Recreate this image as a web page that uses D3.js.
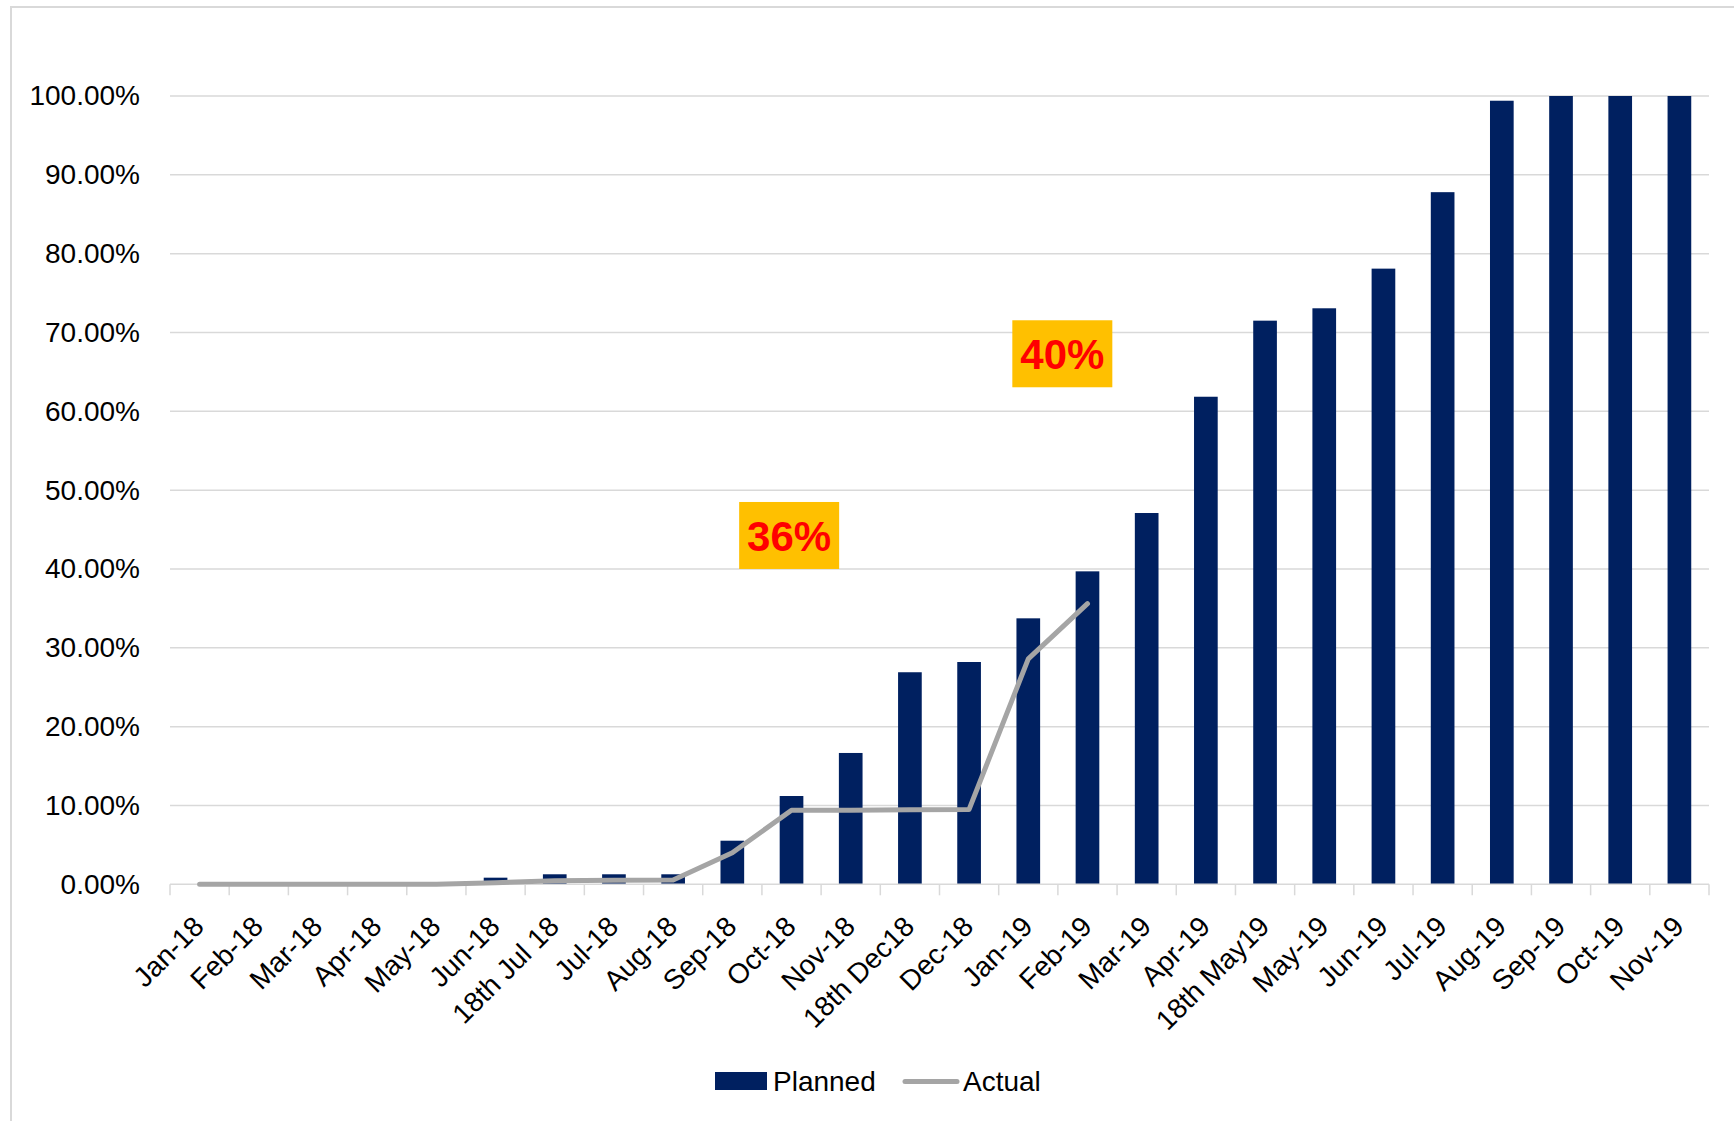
<!DOCTYPE html>
<html>
<head>
<meta charset="utf-8">
<script src="https://cdn.jsdelivr.net/npm/d3@7"></script>
<style>
  html, body { margin: 0; padding: 0; background: #fff; }
  svg { display: block; }
  text { font-family: "Liberation Sans", Arial, sans-serif; }
</style>
</head>
<body>
<svg id="chart" width="1734" height="1121"></svg>
<script>
// Schedule progress: planned vs actual cumulative completion
const categories = [
  "Jan-18", "Feb-18", "Mar-18", "Apr-18", "May-18", "Jun-18", "18th Jul 18",
  "Jul-18", "Aug-18", "Sep-18", "Oct-18", "Nov-18", "18th Dec18", "Dec-18",
  "Jan-19", "Feb-19", "Mar-19", "Apr-19", "18th May19", "May-19", "Jun-19",
  "Jul-19", "Aug-19", "Sep-19", "Oct-19", "Nov-19"
];

// Planned completion (%) per period
const planned = [
  0, 0, 0, 0, 0, 0.84, 1.27,
  1.27, 1.27, 5.53, 11.2, 16.66, 26.9, 28.2,
  33.74, 39.7, 47.1, 61.85, 71.5, 73.07, 78.1,
  87.8, 99.4, 100, 100, 100
];

// Actual completion (%) recorded so far
const actual = [
  0, 0, 0, 0, 0, 0.2, 0.45,
  0.5, 0.55, 4.0, 9.4, 9.4, 9.45, 9.5,
  28.6, 35.6
];

const yTicks = [0, 10, 20, 30, 40, 50, 60, 70, 80, 90, 100];

// Callouts: text and the period / level they sit at
const callouts = [
  { text: "36%", period: "Oct-18", level: 44.25, shift: -0.04 },
  { text: "40%", period: "Jan-19", level: 67.3, shift: 0.575 }
];

const svg = d3.select("#chart");
const W = 1734, H = 1121;

const plot = { left: 170, right: 1709, top: 96, bottom: 884.3 };

const x = d3.scaleBand().domain(categories).range([plot.left, plot.right]).padding(0);
const y = d3.scaleLinear().domain([0, 100]).range([plot.bottom, plot.top]);

const gridColor = "#D9D9D9";
const barColor = "#002060";
const lineColor = "#A5A5A5";

// Chart frame
svg.append("rect")
  .attr("x", 11).attr("y", 7)
  .attr("width", W + 20).attr("height", H + 20)
  .attr("fill", "#fff")
  .attr("stroke", gridColor).attr("stroke-width", 2);

// Horizontal gridlines
svg.append("g")
  .selectAll("line")
  .data(yTicks.filter(d => d > 0))
  .join("line")
  .attr("x1", plot.left).attr("x2", plot.right)
  .attr("y1", d => y(d)).attr("y2", d => y(d))
  .attr("stroke", gridColor).attr("stroke-width", 1.5);

// Y axis labels
const yAxis = d3.axisLeft(y).tickValues(yTicks)
  .tickFormat(d => d.toFixed(2) + "%").tickSize(0).tickPadding(30);
const gy = svg.append("g").attr("transform", `translate(${plot.left},0)`).call(yAxis);
gy.select(".domain").remove();
gy.selectAll("text").attr("font-size", 28).attr("fill", "#000")
  .attr("font-family", "Liberation Sans, Arial, sans-serif");

// Bars
const bw = x.bandwidth() * 0.4;
svg.append("g")
  .selectAll("rect")
  .data(categories.map((c, i) => ({ c, v: planned[i] })))
  .join("rect")
  .attr("x", d => x(d.c) + (x.bandwidth() - bw) / 2)
  .attr("width", bw)
  .attr("y", d => y(d.v))
  .attr("height", d => y(0) - y(d.v))
  .attr("fill", barColor);

// X axis: baseline and tick marks between categories
const gx = svg.append("g");
gx.append("line")
  .attr("x1", plot.left).attr("x2", plot.right)
  .attr("y1", y(0)).attr("y2", y(0))
  .attr("stroke", gridColor).attr("stroke-width", 1.5);
const boundaries = categories.map(c => x(c)).concat([plot.right]);
gx.selectAll("line.tick")
  .data(boundaries)
  .join("line")
  .attr("class", "tick")
  .attr("x1", d => d).attr("x2", d => d)
  .attr("y1", y(0)).attr("y2", y(0) + 11)
  .attr("stroke", gridColor).attr("stroke-width", 1.5);

// Rotated category labels
gx.selectAll("text")
  .data(categories)
  .join("text")
  .attr("transform", d => `translate(${x(d) + x.bandwidth() / 2 + 6},${y(0) + 44}) rotate(-45)`)
  .attr("text-anchor", "end")
  .attr("font-size", 28)
  .attr("fill", "#000")
  .text(d => d);

// Actual line
const line = d3.line()
  .x((d, i) => x(categories[i]) + x.bandwidth() / 2)
  .y(d => y(d));
svg.append("path")
  .datum(actual)
  .attr("d", line)
  .attr("fill", "none")
  .attr("stroke", lineColor)
  .attr("stroke-width", 5)
  .attr("stroke-linejoin", "round")
  .attr("stroke-linecap", "round");

// Callout boxes
const boxW = 100, boxH = 67;
const cg = svg.append("g").selectAll("g")
  .data(callouts)
  .join("g")
  .attr("transform", d => {
    const cx = x(d.period) + x.bandwidth() * (0.5 + (d.shift || 0));
    return `translate(${cx - boxW / 2},${y(d.level) - boxH / 2})`;
  });
cg.append("rect")
  .attr("width", boxW).attr("height", boxH)
  .attr("fill", "#FFC000");
cg.append("text")
  .attr("x", boxW / 2).attr("y", boxH / 2)
  .attr("dy", "0.36em")
  .attr("text-anchor", "middle")
  .attr("font-size", 42)
  .attr("font-weight", "bold")
  .attr("fill", "#FF0000")
  .text(d => d.text);

// Legend
const lg = svg.append("g");
lg.append("rect")
  .attr("x", 715).attr("y", 1072).attr("width", 52).attr("height", 18)
  .attr("fill", barColor);
lg.append("text")
  .attr("x", 773).attr("y", 1081).attr("dy", "0.36em")
  .attr("font-size", 28).attr("fill", "#000")
  .text("Planned");
lg.append("line")
  .attr("x1", 905).attr("x2", 957)
  .attr("y1", 1081.5).attr("y2", 1081.5)
  .attr("stroke", lineColor).attr("stroke-width", 5)
  .attr("stroke-linecap", "round");
lg.append("text")
  .attr("x", 963).attr("y", 1081).attr("dy", "0.36em")
  .attr("font-size", 28).attr("fill", "#000")
  .text("Actual");
</script>
</body>
</html>
